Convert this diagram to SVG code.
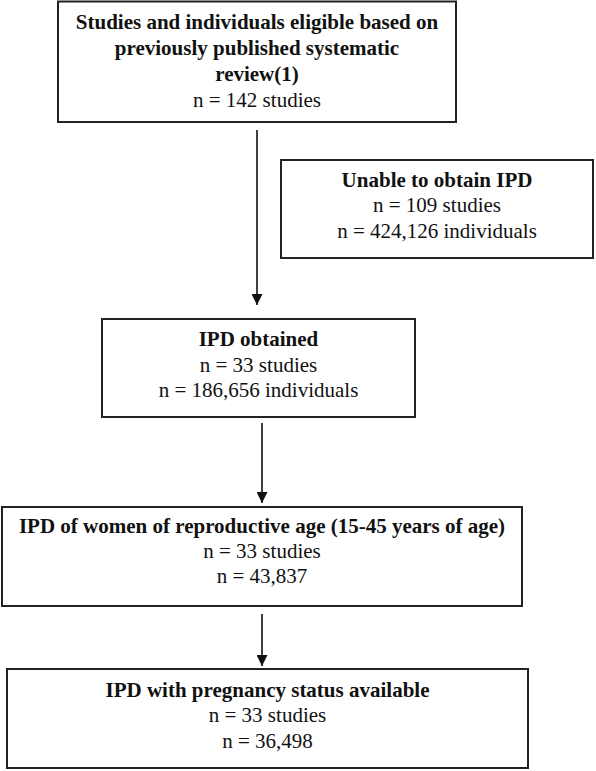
<svg xmlns="http://www.w3.org/2000/svg" width="596" height="771" viewBox="0 0 596 771">
<style>
.box{fill:#fff;stroke:#222;stroke-width:2}
.t{font-family:"Liberation Serif","Times New Roman",serif;font-size:21px;fill:#111;text-anchor:middle}
.b{font-weight:bold}
.c{stroke:#111;stroke-width:1.6;fill:none}
</style>
<defs>
<marker id="ah" markerUnits="userSpaceOnUse" markerWidth="11" markerHeight="11" refX="11" refY="5.5" orient="auto">
<path d="M0,0 L11,5.5 L0,11 z" fill="#111"/>
</marker>
</defs>
<rect width="596" height="771" fill="#fff"/>
<g id="connectors">
<line class="c" x1="257" y1="130" x2="257" y2="305" marker-end="url(#ah)"/>
<line class="c" x1="262" y1="423" x2="262" y2="503" marker-end="url(#ah)"/>
<line class="c" x1="262" y1="614" x2="262" y2="666" marker-end="url(#ah)"/>
</g>
<g id="n1">
<rect class="box" x="58" y="1.5" width="398" height="120.5"/>
<text class="t b" x="257" y="29">Studies and individuals eligible based on</text>
<text class="t b" x="257" y="55">previously published systematic</text>
<text class="t b" x="257" y="81">review(1)</text>
<text class="t" x="257" y="107">n = 142 studies</text>
</g>
<g id="n2">
<rect class="box" x="281" y="160" width="312" height="98"/>
<text class="t b" x="437" y="187">Unable to obtain IPD</text>
<text class="t" x="437" y="212">n = 109 studies</text>
<text class="t" x="437" y="238">n = 424,126 individuals</text>
</g>
<g id="n3">
<rect class="box" x="102" y="319" width="313" height="98"/>
<text class="t b" x="258.5" y="346">IPD obtained</text>
<text class="t" x="258.5" y="372">n = 33 studies</text>
<text class="t" x="258.5" y="397">n = 186,656 individuals</text>
</g>
<g id="n4">
<rect class="box" x="2" y="507" width="520" height="99"/>
<text class="t b" x="262" y="533">IPD of women of reproductive age (15-45 years of age)</text>
<text class="t" x="262" y="558">n = 33 studies</text>
<text class="t" x="262" y="583">n = 43,837</text>
</g>
<g id="n5">
<rect class="box" x="7" y="669" width="521" height="99"/>
<text class="t b" x="267.5" y="697">IPD with pregnancy status available</text>
<text class="t" x="267.5" y="722">n = 33 studies</text>
<text class="t" x="267.5" y="748">n = 36,498</text>
</g>
</svg>
